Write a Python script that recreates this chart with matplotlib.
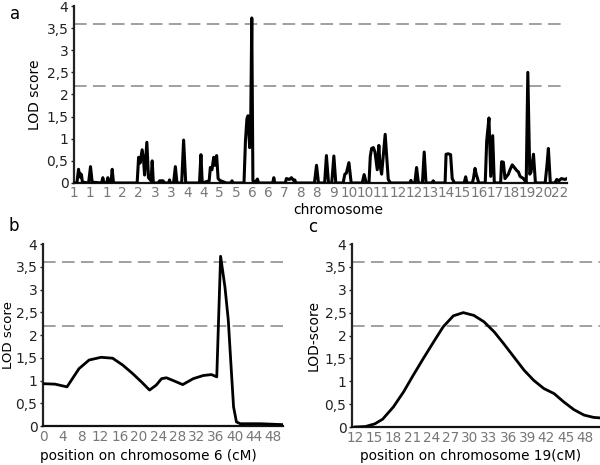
import matplotlib
matplotlib.use("Agg")
import matplotlib.pyplot as plt
from matplotlib.ticker import FuncFormatter

# ---------------- data ----------------
# Panel a: genome scan, x in chromosome-tick units (tick k at position k)
chrom_labels = ["1", "1", "1", "2", "2", "3", "3", "4", "4", "5", "5", "6", "6", "7",
                "8", "8", "9", "10", "10", "11", "12", "12", "13", "14", "15", "16",
                "17", "18", "19", "20", "22"]
scan_pos = [0.0, 0.18, 0.28, 0.34, 0.38, 0.42, 0.46, 0.52,
            0.9, 1.02, 1.12,
            1.7, 1.78, 1.85, 2.02, 2.09, 2.15,
            2.28, 2.36, 2.44,
            3.9, 3.99, 4.08, 4.21, 4.3, 4.36, 4.5, 4.6, 4.76, 4.83, 4.9,
            5.2, 5.29, 5.49, 5.6, 5.85, 5.9, 5.95,
            6.15, 6.26, 6.36,
            6.65, 6.77, 6.9,
            7.75, 7.84, 7.92,
            8.35, 8.42, 8.52, 8.63, 8.7, 8.81, 8.9, 9.0, 9.2, 9.4, 9.7, 9.76, 9.82,
            10.5, 10.59, 10.68, 10.75, 10.85, 10.9, 10.98, 11.05, 11.2, 11.33, 11.4,
            12.27, 12.34, 12.4,
            13.05, 13.12, 13.3, 13.43, 13.55, 13.64, 13.7,
            14.85, 14.98, 15.1,
            15.48, 15.59, 15.72, 15.92, 16.05, 16.17,
            16.62, 16.73, 16.82, 16.98, 17.12,
            17.8, 17.92, 18.05,
            18.22, 18.3, 18.38, 18.49, 18.59, 18.73, 18.83, 18.9, 19.0, 19.22, 19.41, 19.55,
            20.75, 20.81, 20.87, 21.05, 21.16, 21.27, 21.52, 21.63, 21.74, 22.1, 22.19, 22.26,
            22.92, 22.98, 23.12, 23.26, 23.36, 23.43, 23.5,
            24.1, 24.19, 24.27, 24.6, 24.67, 24.77, 24.84, 24.91, 25.0,
            25.4, 25.49, 25.63, 25.74, 25.86, 25.96,
            26.35, 26.41, 26.52, 26.62, 26.83, 26.93, 27.07, 27.2, 27.35, 27.45, 27.55,
            27.76, 27.85,
            27.93, 28.03, 28.15, 28.23, 28.38, 28.5,
            29.1, 29.2, 29.3, 29.42,
            29.7, 29.82, 29.95, 30.1, 30.33, 30.45]
scan_lod = [0.0, 0.0, 0.31, 0.15, 0.22, 0.12, 0.19, 0.02,
            0.0, 0.37, 0.02,
            0.0, 0.12, 0.0, 0.0, 0.12, 0.0,
            0.0, 0.31, 0.0,
            0.0, 0.58, 0.45, 0.75, 0.5, 0.18, 0.92, 0.12, 0.05, 0.5, 0.0,
            0.0, 0.05, 0.05, 0.0, 0.0, 0.07, 0.0,
            0.0, 0.37, 0.0,
            0.0, 0.97, 0.0,
            0.0, 0.64, 0.0,
            0.05, 0.35, 0.3, 0.58, 0.4, 0.62, 0.1, 0.06, 0.03, 0.0, 0.0, 0.05, 0.0,
            0.0, 0.95, 1.45, 1.52, 0.8, 0.85, 3.73, 0.05, 0.02, 0.09, 0.0,
            0.0, 0.12, 0.0,
            0.0, 0.1, 0.08, 0.12, 0.06, 0.07, 0.0,
            0.0, 0.4, 0.0,
            0.0, 0.62, 0.0, 0.0, 0.61, 0.0,
            0.0, 0.2, 0.22, 0.46, 0.0,
            0.0, 0.19, 0.0,
            0.0, 0.6, 0.78, 0.8, 0.7, 0.3, 0.85, 0.4, 0.2, 1.1, 0.08, 0.0,
            0.0, 0.06, 0.0, 0.0, 0.35, 0.0, 0.0, 0.7, 0.0, 0.0, 0.05, 0.0,
            0.0, 0.65, 0.66, 0.64, 0.1, 0.05, 0.0,
            0.0, 0.14, 0.0, 0.0, 0.1, 0.33, 0.2, 0.12, 0.0,
            0.0, 0.95, 1.47, 0.15, 1.07, 0.0,
            0.0, 0.48, 0.47, 0.1, 0.2, 0.3, 0.41, 0.35, 0.28, 0.25, 0.15,
            0.1, 0.05,
            0.0, 2.5, 0.2, 0.25, 0.65, 0.0,
            0.0, 0.35, 0.78, 0.0,
            0.0, 0.08, 0.05, 0.1, 0.08, 0.1]

# Panel b: chromosome 6 fine map
chr6_pos = [0, 2.5, 5.0, 7.5, 9.6, 12.1, 14.5, 16.6, 18.7, 20.5, 22.2, 23.6, 24.7,
            25.7, 27.1, 29.1, 31.3, 33.4, 35.1, 36.2, 37.0, 37.9, 38.6, 39.1, 39.7,
            40.3, 41.1, 45.2, 50.0]
chr6_lod = [0.93, 0.92, 0.86, 1.26, 1.45, 1.51, 1.49, 1.34, 1.15, 0.97, 0.79, 0.90,
            1.04, 1.06, 1.00, 0.91, 1.04, 1.11, 1.13, 1.08, 3.73, 3.06, 2.33, 1.45,
            0.42, 0.09, 0.05, 0.05, 0.03]

# Panel c: chromosome 19 fine map
chr19_pos = [12.0, 13.6, 15.1, 16.3, 18.0, 19.6, 21.1, 22.7, 24.3, 25.8, 27.4,
             28.95, 30.6, 32.2, 33.8, 35.3, 36.9, 38.5, 40.0, 41.6, 43.2, 44.7,
             46.3, 47.9, 49.4, 50.3]
chr19_lod = [0.0, 0.01, 0.07, 0.17, 0.44, 0.77, 1.13, 1.50, 1.86, 2.19, 2.43,
             2.50, 2.44, 2.30, 2.08, 1.82, 1.53, 1.24, 1.02, 0.84, 0.73, 0.55,
             0.38, 0.26, 0.21, 0.20]

thresholds = [3.6, 2.2]
y_ticks = [0, 0.5, 1, 1.5, 2, 2.5, 3, 3.5, 4]
chr6_ticks = list(range(0, 49, 4))
chr19_ticks = list(range(12, 49, 3))

# ---------------- figure ----------------
plt.rcParams['font.family'] = ['DejaVu Sans']
fig = plt.figure(figsize=(6.0, 4.65), dpi=100)

def comma(v, _):
    s = ('%g' % v)
    return s.replace('.', ',')

def style(ax):
    for s in ['top', 'right']:
        ax.spines[s].set_visible(False)
    ax.spines['left'].set_color('#222222')
    ax.spines['left'].set_linewidth(1.6)
    ax.spines['bottom'].set_color('#111111')
    ax.spines['bottom'].set_linewidth(1.6)
    ax.set_ylim(0, 4)
    ax.set_yticks(y_ticks)
    ax.yaxis.set_major_formatter(FuncFormatter(comma))
    ax.tick_params(axis='y', length=2, width=1, pad=2, labelsize=10, colors='#222222')
    ax.tick_params(axis='x', length=0, pad=3, labelsize=9.8, labelcolor='#777777')
    for t in thresholds:
        ax.axhline(t, color='#999999', lw=1.3, dashes=(7, 3.5), zorder=1)

# panel a
axa = fig.add_axes([74/600, 1-183/465, (567-74)/600, (183-6)/465])
style(axa)
axa.plot(scan_pos, scan_lod, color='black', lw=2.2, solid_joinstyle='round', zorder=3)
axa.set_xlim(0, 30.45)
axa.set_xticks(range(len(chrom_labels)))
axa.set_xticklabels(chrom_labels)
axa.tick_params(axis='x', pad=2)
axa.set_xlabel('chromosome', fontsize=10, labelpad=3)
axa.xaxis.set_label_coords(0.535, -0.115)
axa.set_ylabel('LOD score', fontsize=10, labelpad=3)
fig.text(10/600, 1-14/465, 'a', fontsize=12, va='center', ha='left')

# panel b
axb = fig.add_axes([43/600, 1-426/465, (283-43)/600, (426-244)/465])
style(axb)
axb.plot(chr6_pos, chr6_lod, color='black', lw=2.0, zorder=3)
axb.set_xlim(0, 50)
axb.set_xticks(chr6_ticks)
axb.set_xlabel('position on chromosome 6 (cM)', fontsize=9.8, labelpad=4)
axb.xaxis.set_label_coords(0.44, -0.125)
axb.set_ylabel('LOD score', fontsize=9.6)
axb.yaxis.set_label_coords(-0.115, 0.5)
fig.text(8/600, 1-226/465, 'b', fontsize=12, va='center', ha='left')

# panel c
axc = fig.add_axes([352/600, 1-427/465, (600-352)/600, (427-244)/465])
style(axc)
axc.plot(chr19_pos, chr19_lod, color='black', lw=2.0, zorder=3)
axc.set_xlim(11.5, 50.4)
axc.set_xticks(chr19_ticks)
axc.set_xlabel('position on chromosome 19(cM)', fontsize=9.8, labelpad=4)
axc.xaxis.set_label_coords(0.48, -0.12)
axc.set_ylabel('LOD-score', fontsize=10, labelpad=3)
fig.text(308/600, 1-227/465, 'c', fontsize=12, va='center', ha='left')

fig.savefig('out.png', dpi=100)
